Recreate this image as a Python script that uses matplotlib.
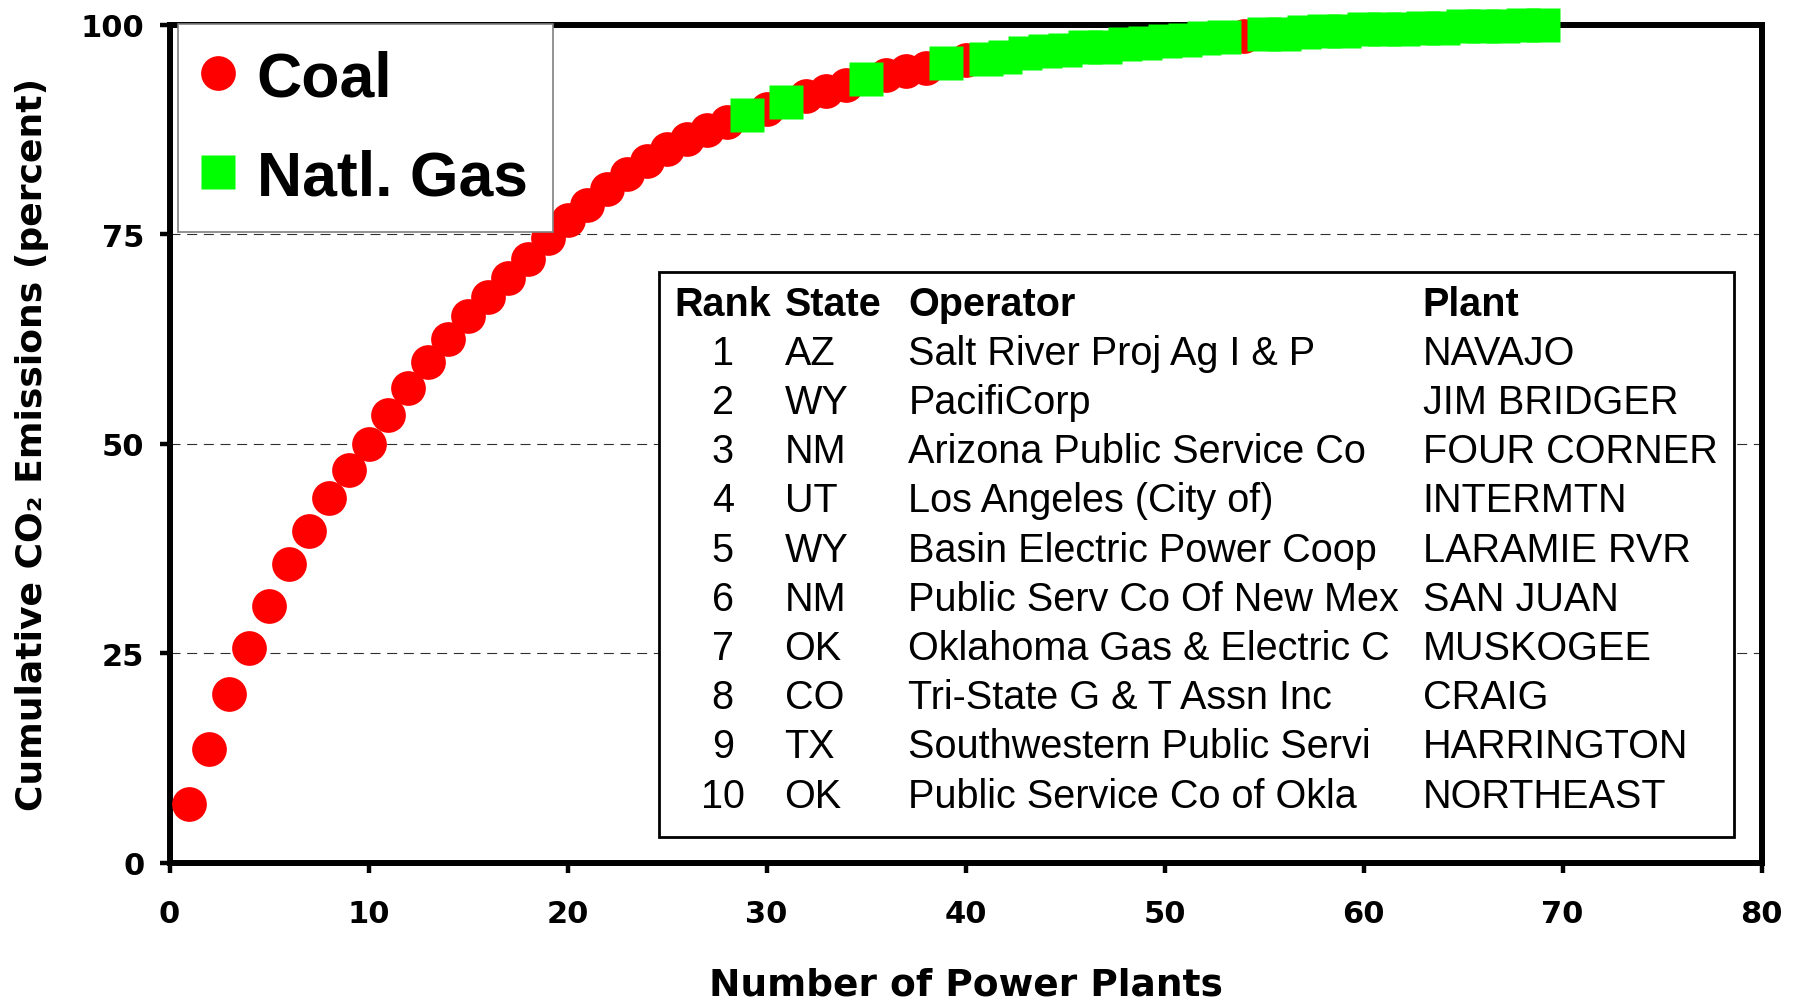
import matplotlib
matplotlib.use('Agg')
import matplotlib.pyplot as plt
from matplotlib.patches import Rectangle

# ---------------- data ----------------
coal_rank = list(range(1, 29)) + [30, 32, 33, 34, 36, 37, 38, 40, 54]
coal_cum = [7.0, 13.6, 20.2, 25.6, 30.7, 35.7, 39.6, 43.5, 46.9, 50.0,
            53.5, 56.7, 59.8, 62.5, 65.2, 67.5, 69.8, 72.1, 74.6, 76.7,
            78.5, 80.4, 82.2, 83.7, 85.2, 86.4, 87.5, 88.4,
            90.0, 91.5, 92.1, 92.8, 94.0, 94.5, 94.9, 95.8, 98.7]

gas_rank = [29, 31, 35, 39] + list(range(41, 54)) + list(range(55, 70))
gas_cum = [89.2, 90.8, 93.5, 95.4,
           95.9, 96.2, 96.6, 96.9, 97.0, 97.3, 97.4, 97.7, 97.8, 98.1, 98.2, 98.4, 98.5,
           98.85, 98.95, 99.15, 99.25, 99.3, 99.45, 99.5, 99.55, 99.6, 99.65,
           99.8, 99.85, 99.9, 99.95, 100.0]

x_ticks = [0, 10, 20, 30, 40, 50, 60, 70, 80]
y_ticks = [0, 25, 50, 75, 100]

table_header = ["Rank", "State", "Operator", "Plant"]
table_rank = ["1", "2", "3", "4", "5", "6", "7", "8", "9", "10"]
table_state = ["AZ", "WY", "NM", "UT", "WY", "NM", "OK", "CO", "TX", "OK"]
table_operator = ["Salt River Proj Ag I & P", "PacifiCorp", "Arizona Public Service Co",
                  "Los Angeles (City of)", "Basin Electric Power Coop",
                  "Public Serv Co Of New Mex", "Oklahoma Gas & Electric C",
                  "Tri-State G & T Assn Inc", "Southwestern Public Servi",
                  "Public Service Co of Okla"]
table_plant = ["NAVAJO", "JIM BRIDGER", "FOUR CORNER", "INTERMTN", "LARAMIE RVR",
               "SAN JUAN", "MUSKOGEE", "CRAIG", "HARRINGTON", "NORTHEAST"]

# ---------------- figure ----------------
W, H = 1796, 1004
fig = plt.figure(figsize=(W / 100, H / 100), dpi=100)
L, R, T, B = 169.5, 1761.7, 25.8, 864.0
ax = fig.add_axes([L / W, 1 - B / H, (R - L) / W, (B - T) / H])

def ax_x(px):
    return (px - L) / (R - L)

def ax_y(py):
    return (B - py) / (B - T)

ax.set_xlim(0, 80)
ax.set_ylim(0, 100)

ax.plot(coal_rank, coal_cum, 'o', color='#FF0000', ms=25, mec='none',
        clip_on=False, zorder=4, label='Coal')
ax.plot(gas_rank, gas_cum, 's', color='#00FF00', ms=25, mec='none',
        clip_on=False, zorder=5, label='Natl. Gas')

# grid
ax.set_axisbelow(True)
ax.yaxis.grid(True, color='#303030', lw=0.8, linestyle=(0, (9, 6)))
ax.xaxis.grid(False)

# spines & ticks
for s in ax.spines.values():
    s.set_linewidth(4.3)
    s.set_color('black')
ax.set_xticks(x_ticks)
ax.set_yticks(y_ticks)
ax.tick_params(axis='both', direction='out', length=7, width=3.2, color='black')
ax.tick_params(axis='x', pad=19)
ax.tick_params(axis='y', pad=11)
for lab in ax.get_xticklabels() + ax.get_yticklabels():
    lab.set_fontfamily('DejaVu Sans')
    lab.set_fontweight('bold')
    lab.set_fontsize(22)

ax.set_xlabel('Number of Power Plants', fontsize=27, fontweight='bold',
              family='DejaVu Sans')
ax.xaxis.set_label_coords(0.5, ax_y(986))
ax.xaxis.label.set_va('center')
ax.set_ylabel('Cumulative CO\u2082 Emissions (percent)', fontsize=26,
              fontweight='bold', family='DejaVu Sans')
ax.yaxis.set_label_coords(ax_x(32), 0.5)
ax.yaxis.label.set_va('center')

# legend
leg = ax.legend(loc='upper left', bbox_to_anchor=(ax_x(178), ax_y(25)),
                borderaxespad=0, prop={'family': 'Liberation Sans', 'weight': 'bold', 'size': 45},
                frameon=True, fancybox=False, edgecolor='#808080', framealpha=1,
                borderpad=0.4, handlelength=0.48, handletextpad=0.38,
                labelspacing=0.64, markerscale=1.0)
leg.get_frame().set_linewidth(1.2)
leg.set_zorder(6)

# table box
x0, x1, y0, y1 = ax_x(658.5), ax_x(1734), ax_y(838), ax_y(273)
ax.add_patch(Rectangle((x0, y0), x1 - x0, y1 - y0, transform=ax.transAxes,
                       facecolor='white', edgecolor='black', lw=2, zorder=3))

col_rank = ax_x(722.7)
col_state = ax_x(784.6)
col_op = ax_x(908.3)
col_plant = ax_x(1422.6)
head_y = ax_y(315.5)
row_step = 49.2 / (B - T)
tkw = dict(transform=ax.transAxes, va='baseline', fontsize=28.5,
           family='Liberation Sans', zorder=4)
ax.text(col_rank, head_y, table_header[0], ha='center', fontweight='bold', **tkw)
ax.text(col_state, head_y, table_header[1], ha='left', fontweight='bold', **tkw)
ax.text(col_op, head_y, table_header[2], ha='left', fontweight='bold', **tkw)
ax.text(col_plant, head_y, table_header[3], ha='left', fontweight='bold', **tkw)
for i in range(len(table_rank)):
    yy = head_y - (i + 1) * row_step
    ax.text(col_rank, yy, table_rank[i], ha='center', **tkw)
    ax.text(col_state, yy, table_state[i], ha='left', **tkw)
    ax.text(col_op, yy, table_operator[i], ha='left', **tkw)
    ax.text(col_plant, yy, table_plant[i], ha='left', **tkw)

fig.savefig('out.png', dpi=100)
